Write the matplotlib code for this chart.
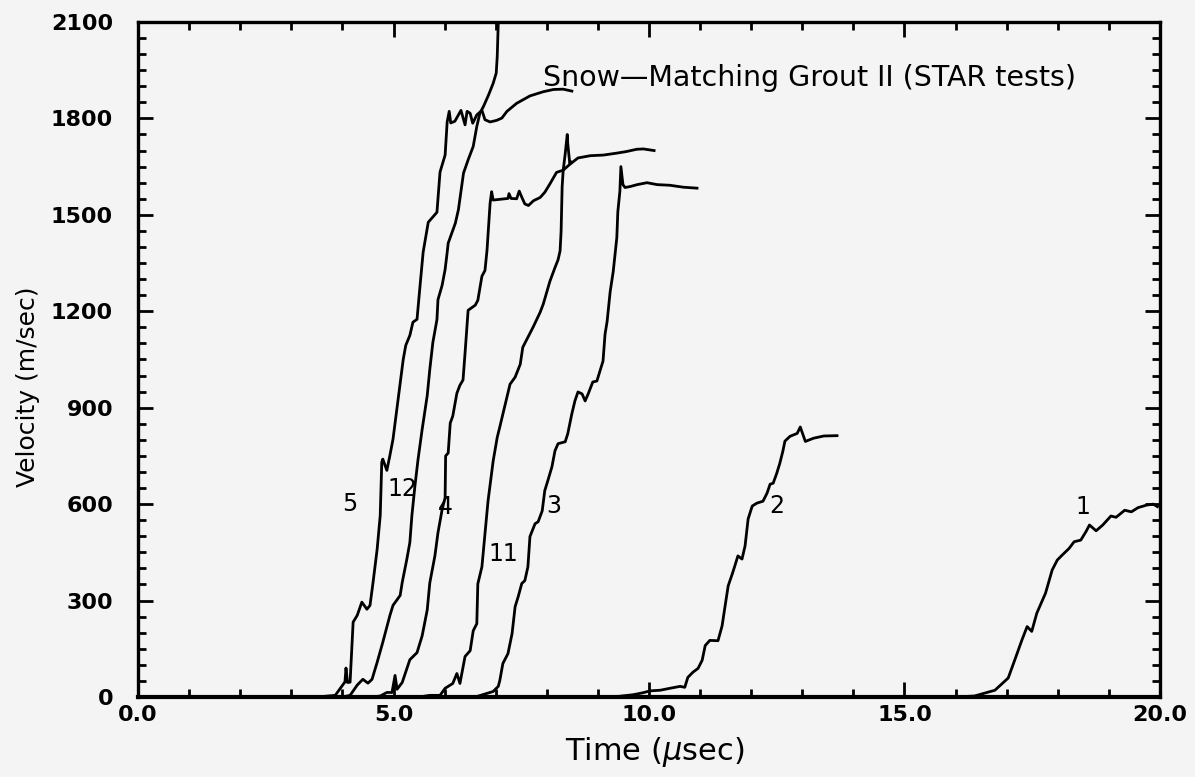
import matplotlib
matplotlib.use("Agg")
import matplotlib.pyplot as plt
from matplotlib.ticker import MultipleLocator, FormatStrFormatter

# velocity traces, time in microseconds, velocity in m/sec
t5 = [3.5, 3.86, 4.05, 4.07, 4.10, 4.15, 4.21, 4.29, 4.38, 4.48, 4.54, 4.60, 4.68, 4.74, 4.77,
      4.79, 4.87, 4.93, 4.99, 5.09, 5.19, 5.24, 5.32, 5.38, 5.46, 5.52, 5.58, 5.68, 5.85, 5.91,
      6.01, 6.05, 6.09, 6.12, 6.20, 6.32, 6.40, 6.44, 6.50, 6.55, 6.63, 6.73, 6.79, 6.89, 7.02,
      7.12, 7.22, 7.41, 7.67, 7.93, 8.13, 8.32, 8.49]
v5 = [0, 5, 47, 90, 45, 46, 233, 254, 295, 273, 285, 357, 460, 565, 730,
      740, 705, 752, 802, 926, 1050, 1094, 1125, 1166, 1175, 1281, 1384, 1477, 1508, 1633,
      1686, 1789, 1822, 1786, 1791, 1825, 1780, 1822, 1816, 1785, 1811, 1825, 1796, 1789, 1794,
      1801, 1822, 1847, 1870, 1883, 1890, 1891, 1885]

t12 = [4.0, 4.15, 4.29, 4.40, 4.50, 4.58, 4.68, 4.79, 4.93, 4.99, 5.13, 5.17, 5.26, 5.32, 5.36,
       5.42, 5.48, 5.56, 5.66, 5.71, 5.77, 5.85, 5.87, 5.95, 6.01, 6.05, 6.07, 6.21, 6.27, 6.37,
       6.46, 6.56, 6.63, 6.69, 6.76, 6.86, 6.95, 7.01, 7.03, 7.05, 7.07]
v12 = [0, 5, 37, 55, 43, 55, 108, 170, 254, 285, 316, 356, 428, 481, 565,
       658, 739, 832, 938, 1019, 1103, 1174, 1236, 1280, 1330, 1383, 1412, 1474, 1516, 1630,
       1671, 1713, 1775, 1816, 1837, 1873, 1909, 1941, 1993, 2097, 2200]

t4 = [4.6, 4.74, 4.87, 4.97, 5.03, 5.07, 5.17, 5.32, 5.46, 5.56, 5.66, 5.71, 5.81, 5.87, 5.95,
      6.01, 6.02, 6.07, 6.11, 6.16, 6.24, 6.30, 6.36, 6.40, 6.46, 6.60, 6.65, 6.73, 6.79, 6.83,
      6.89, 6.92, 6.95, 7.24, 7.26, 7.30, 7.41, 7.46, 7.51, 7.57, 7.64, 7.74, 7.87, 7.96, 8.06,
      8.19, 8.32, 8.45, 8.61, 8.85, 9.11, 9.37, 9.56, 9.76, 9.89, 10.10]
v4 = [0, 3, 14, 14, 67, 24, 45, 116, 138, 190, 271, 355, 439, 511, 582,
      620, 750, 759, 852, 874, 945, 970, 986, 1070, 1203, 1219, 1234, 1309, 1327, 1390,
      1536, 1572, 1546, 1551, 1566, 1551, 1550, 1574, 1555, 1534, 1529, 1544, 1554, 1570, 1596,
      1632, 1639, 1657, 1677, 1684, 1686, 1692, 1697, 1704, 1705, 1700]

t11 = [5.5, 5.71, 5.91, 6.01, 6.16, 6.24, 6.30, 6.40, 6.50, 6.56, 6.63, 6.65, 6.73, 6.79, 6.85,
       6.95, 7.03, 7.08, 7.14, 7.22, 7.28, 7.38, 7.48, 7.53, 7.63, 7.73, 7.87, 7.93, 8.06, 8.16,
       8.22, 8.26, 8.28, 8.30, 8.32, 8.36, 8.40, 8.41, 8.45, 8.47]
v11 = [0, 5, 5, 27, 42, 73, 42, 126, 144, 206, 228, 352, 405, 508, 610,
       734, 808, 840, 880, 933, 973, 995, 1035, 1088, 1119, 1150, 1197, 1222, 1293, 1336,
       1360, 1388, 1450, 1587, 1637, 1690, 1750, 1721, 1659, 1665]

t3 = [6.6, 6.95, 7.05, 7.08, 7.14, 7.24, 7.32, 7.38, 7.44, 7.51, 7.57, 7.63, 7.67, 7.77, 7.83,
      7.91, 7.96, 8.02, 8.10, 8.16, 8.22, 8.36, 8.41, 8.49, 8.55, 8.61, 8.69, 8.75, 8.81, 8.90,
      8.98, 9.04, 9.10, 9.14, 9.18, 9.24, 9.30, 9.37, 9.39, 9.43, 9.45, 9.49, 9.53, 9.63, 9.77,
      9.96, 10.16, 10.41, 10.67, 10.94]
v3 = [0, 17, 33, 51, 104, 135, 197, 281, 312, 353, 362, 405, 499, 539, 545,
      579, 642, 673, 716, 766, 788, 794, 819, 881, 921, 949, 943, 921, 943, 980,
      983, 1014, 1045, 1129, 1168, 1261, 1324, 1429, 1510, 1573, 1650, 1594, 1585, 1588, 1594,
      1600, 1594, 1592, 1586, 1583]

t2 = [9.3, 9.69, 9.88, 10.02, 10.22, 10.41, 10.61, 10.70, 10.76, 10.86, 10.96, 11.04, 11.10, 11.19, 11.35,
      11.43, 11.49, 11.55, 11.63, 11.68, 11.74, 11.82, 11.88, 11.94, 12.02, 12.11, 12.23, 12.31, 12.37, 12.43,
      12.50, 12.56, 12.62, 12.66, 12.76, 12.90, 12.96, 13.06, 13.22, 13.42, 13.68]
v2 = [0, 7, 13, 19, 21, 27, 33, 30, 61, 77, 89, 114, 160, 176, 175,
      221, 284, 346, 383, 408, 439, 429, 470, 554, 594, 603, 609, 634, 662, 665,
      696, 727, 765, 796, 811, 820, 840, 795, 805, 812, 813]

t1 = [16.0, 16.37, 16.77, 17.03, 17.16, 17.30, 17.40, 17.49, 17.59, 17.76, 17.89, 17.99, 18.09, 18.22,
      18.32, 18.45, 18.55, 18.62, 18.75, 18.88, 19.04, 19.14, 19.31, 19.44, 19.57, 19.74, 19.87, 19.95]
v1 = [0, 3, 21, 59, 116, 178, 219, 204, 261, 323, 395, 426, 442, 462,
      483, 488, 514, 535, 517, 535, 563, 559, 581, 576, 589, 597, 600, 592]

# test numbers written next to each trace
label_text = ['5', '12', '4', '11', '3', '2', '1']
label_t = [4.15, 5.17, 6.01, 7.14, 8.14, 12.5, 18.5]
label_v = [600, 646, 590, 446, 594, 593, 592]

bg = '#f4f4f4'
fig = plt.figure(figsize=(11.95, 7.77), dpi=100, facecolor=bg)
ax = fig.add_axes([0.1155, 0.103, 0.8552, 0.8687], facecolor=bg)

for t, v in [(t5, v5), (t12, v12), (t4, v4), (t11, v11), (t3, v3), (t2, v2), (t1, v1)]:
    ax.plot(t, v, color='black', lw=2.0, solid_joinstyle='round')

for s, x, y in zip(label_text, label_t, label_v):
    ax.text(x, y, s, fontsize=17, ha='center', va='center')

ax.text(18.35, 1925, 'Snow\u2014Matching Grout II (STAR tests)', fontsize=20.5,
        ha='right', va='center')

ax.set_xlim(0, 20)
ax.set_ylim(0, 2100)
ax.xaxis.set_major_locator(MultipleLocator(5))
ax.xaxis.set_minor_locator(MultipleLocator(1))
ax.yaxis.set_major_locator(MultipleLocator(300))
ax.yaxis.set_minor_locator(MultipleLocator(50))
ax.xaxis.set_major_formatter(FormatStrFormatter('%.1f'))

ax.tick_params(which='both', direction='in', top=True, right=True, width=2.0, color='black')
ax.tick_params(which='major', length=11)
ax.tick_params(which='minor', length=6)
ax.tick_params(axis='y', which='major', pad=18, labelsize=16)
ax.tick_params(axis='x', which='major', pad=6, labelsize=16)
for lab in ax.get_xticklabels() + ax.get_yticklabels():
    lab.set_fontweight('bold')

for sp in ax.spines.values():
    sp.set_linewidth(2.4)
ax.spines['bottom'].set_linewidth(3.0)

ax.set_xlabel('Time ($\\mu$sec)', fontsize=22)
ax.set_ylabel('Velocity (m/sec)', fontsize=18)
ax.xaxis.set_label_coords(0.506, -0.057)
ax.yaxis.set_label_coords(-0.096, 0.459)

fig.savefig('out.png', dpi=100, facecolor=bg)
